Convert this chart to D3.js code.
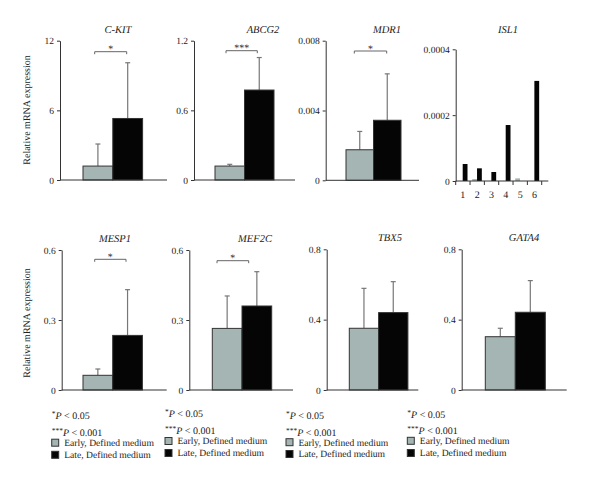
<!DOCTYPE html>
<html><head><meta charset="utf-8">
<script src="https://cdn.jsdelivr.net/npm/d3@7"></script>
<style>body{margin:0;background:#fff}svg{display:block}text{font-family:"Liberation Serif","Times New Roman",serif;fill:#222;text-rendering:geometricPrecision}</style>
</head><body><svg id="c" width="600" height="482"></svg>
<script>
// ---------- data ----------
const genes = ["C-KIT","ABCG2","MDR1","MESP1","MEF2C","TBX5","GATA4"];
const groups = ["Early","Late"];
const earlyMean = [1.2, 0.12, 0.00175, 0.063, 0.264, 0.351, 0.303];
const earlySD   = [1.9, 0.015, 0.00105, 0.027, 0.139, 0.227, 0.048];
const lateMean  = [5.3, 0.775, 0.00344, 0.234, 0.36, 0.44, 0.442];
const lateSD    = [4.8, 0.28, 0.00266, 0.196, 0.147, 0.176, 0.18];
const yMax      = [12, 1.2, 0.008, 0.6, 0.6, 0.8, 0.8];
const yTicks    = [[0,6,12],[0,0.6,1.2],[0,0.004,0.008],[0,0.3,0.6],[0,0.3,0.6],[0,0.4,0.8],[0,0.4,0.8]];
const yTickLabels = [["0","6","12"],["0","0.6","1.2"],["0","0.004","0.008"],["0","0.3","0.6"],["0","0.3","0.6"],["0","0.4","0.8"],["0","0.4","0.8"]];
const sigMarks  = ["*","***","*","*","*","",""];

const islGene = "ISL1";
const islCats = ["1","2","3","4","5","6"];
const islEarly = [0, 0.000006, 0, 0, 0.000008, 0];
const islLate  = [0.0000516, 0.0000385, 0.0000273, 0.00017, 0, 0.000304];
const islTicks = [0, 0.0002, 0.0004];
const islTickLabels = ["0","0.0002","0.0004"];

const yLabel = "Relative mRNA expression";
const legendNames = ["Early, Defined medium","Late, Defined medium"];

// ---------- layout ----------
const layout = [
 {ax:60,    end:167,   b0:83,    bw:29.8, top:40.7,  bot:180,   tx:118, ty:32.5, brY:51.7,  br:[94.7,126.7]},
 {ax:194,   end:295,   b0:215,   bw:29.5, top:40.7,  bot:180,   tx:263, ty:32.5, brY:50.7,  br:[226,257.3]},
 {ax:325.7, end:419,   b0:346,   bw:27.5, top:40.7,  bot:180.3, tx:387, ty:32.5, brY:51,    br:[354.3,386.7]},
 {ax:61.7,  end:166.7, b0:83,    bw:29.7, top:250,   bot:390,   tx:115, ty:241.5, brY:259.3, br:[94.7,126]},
 {ax:189.3, end:293,   b0:212.3, bw:29.7, top:250,   bot:390,   tx:255, ty:241.5, brY:260.7, br:[217,248.7]},
 {ax:326.7, end:418.3, b0:349.3, bw:29.3, top:249.3, bot:390,   tx:390, ty:240.5},
 {ax:461.7, end:566.7, b0:485.3, bw:30,   top:249.3, bot:390,   tx:524, ty:240.5}
];
const islLayout = {ax:455.7, bandEnd:541.7, end:548.3, top:49.3, bot:181, tx:508, ty:32.5};
const legendPos = [
 {x:51.7, y:[415.7,432.7,442.7,454.8]},
 {x:165,  y:[413.3,430.7,441,453]},
 {x:286,  y:[415.7,432.7,442.2,454]},
 {x:407.3,y:[414.3,431,440.8,453]}
];
const colEarly = "#a5b5b3", colLate = "#050505", colAxis = "#333", colErr = "#777";

const svg = d3.select("#c");

function yAxisDraw(g, y, ticks, labels, ax){
  const axis = d3.axisLeft(y).tickValues(ticks).tickSize(3).tickSizeOuter(0)
    .tickFormat((d,i)=>labels[i]);
  const a = g.append("g").attr("transform",`translate(${ax},0)`).call(axis);
  a.select(".domain").attr("stroke",colAxis);
  a.selectAll(".tick line").attr("stroke",colAxis);
  a.selectAll(".tick text").attr("font-size",9.5).attr("fill","#222")
    .attr("font-family",'"Liberation Serif","Times New Roman",serif').attr("x",-6);
}

genes.forEach((gname,i)=>{
  const L = layout[i];
  const g = svg.append("g");
  const y = d3.scaleLinear().domain([0,yMax[i]]).range([L.bot,L.top]);
  const x = d3.scaleBand().domain(groups).range([L.b0, L.b0+2*L.bw]).padding(0);
  yAxisDraw(g, y, yTicks[i], yTickLabels[i], L.ax);
  const rows = [
    {grp:"Early", m:earlyMean[i], sd:earlySD[i], c:colEarly},
    {grp:"Late",  m:lateMean[i],  sd:lateSD[i],  c:colLate}
  ];
  rows.forEach(r=>{
    const cx = x(r.grp)+x.bandwidth()/2;
    g.append("line").attr("x1",cx).attr("x2",cx).attr("y1",y(r.m)).attr("y2",y(r.m+r.sd))
      .attr("stroke",colErr).attr("stroke-width",1.2);
    g.append("line").attr("x1",cx-2.5).attr("x2",cx+2.5).attr("y1",y(r.m+r.sd)).attr("y2",y(r.m+r.sd))
      .attr("stroke",colErr).attr("stroke-width",1.2);
  });
  g.selectAll("rect.bar").data(rows).join("rect")
    .attr("x",d=>x(d.grp)).attr("width",x.bandwidth())
    .attr("y",d=>y(d.m)).attr("height",d=>y(0)-y(d.m))
    .attr("fill",d=>d.c).attr("stroke","#333").attr("stroke-width",1);
  g.append("line").attr("x1",L.ax).attr("x2",L.end).attr("y1",L.bot).attr("y2",L.bot)
    .attr("stroke",colAxis).attr("stroke-width",1);
  g.append("text").attr("x",L.tx).attr("y",L.ty).attr("text-anchor","middle")
    .attr("font-size",10.5).attr("font-style","italic").text(gname);
  if (sigMarks[i]) {
    const [x1,x2] = L.br, by = L.brY;
    g.append("path").attr("d",`M${x1},${by+2.5}V${by}H${x2}V${by+2.5}`)
      .attr("fill","none").attr("stroke","#666").attr("stroke-width",1);
    g.append("text").attr("x",(x1+x2)/2).attr("y",by+0.5).attr("text-anchor","middle")
      .attr("font-size",10).attr("fill","#444").text(sigMarks[i]);
  }
});

// ISL1 panel
(function(){
  const L = islLayout;
  const g = svg.append("g");
  const y = d3.scaleLinear().domain([0,0.0004]).range([L.bot,L.top]);
  const x = d3.scaleBand().domain(islCats).range([L.ax, L.bandEnd]).padding(0);
  const x1 = d3.scaleBand().domain(groups).range([2.2, 11.8]).padding(0);
  yAxisDraw(g, y, islTicks, islTickLabels, L.ax);
  const data = [];
  islCats.forEach((c,i)=>{
    data.push({c, grp:"Early", v:islEarly[i], col:colEarly});
    data.push({c, grp:"Late", v:islLate[i], col:colLate});
  });
  g.selectAll("rect").data(data.filter(d=>d.v>0)).join("rect")
    .attr("x",d=>x(d.c)+x1(d.grp)).attr("width",x1.bandwidth())
    .attr("y",d=>y(d.v)).attr("height",d=>y(0)-y(d.v))
    .attr("fill",d=>d.col);
  g.append("line").attr("x1",L.ax).attr("x2",L.end).attr("y1",L.bot).attr("y2",L.bot)
    .attr("stroke",colAxis);
  const bounds = islCats.map(c=>x(c)).concat([L.bandEnd]);
  g.selectAll("line.bt").data(bounds).join("line").attr("class","bt")
    .attr("x1",d=>d).attr("x2",d=>d).attr("y1",L.bot).attr("y2",L.bot+4).attr("stroke",colAxis);
  g.selectAll("text.cl").data(islCats).join("text").attr("class","cl")
    .attr("x",d=>x(d)+x.bandwidth()/2).attr("y",L.bot+17).attr("text-anchor","middle")
    .attr("font-size",10).attr("fill","#222").text(d=>d);
  g.append("text").attr("x",L.tx).attr("y",L.ty).attr("text-anchor","middle")
    .attr("font-size",10.5).attr("font-style","italic").text(islGene);
})();

[110, 323].forEach(cy=>{
  svg.append("text").attr("transform",`translate(29.5,${cy}) rotate(-90)`)
    .attr("text-anchor","middle").attr("font-size",10).text(yLabel);
});

legendPos.forEach(P=>{
  const g = svg.append("g");
  const t1 = g.append("text").attr("x",P.x).attr("y",P.y[0]+3.5).attr("font-size",10);
  t1.append("tspan").attr("font-size",7.5).attr("dy",-3).text("*");
  t1.append("tspan").attr("dy",3).attr("font-style","italic").text("P");
  t1.append("tspan").text(" < 0.05");
  const t2 = g.append("text").attr("x",P.x).attr("y",P.y[1]+3.2).attr("font-size",10);
  t2.append("tspan").attr("font-size",7.5).attr("dy",-3).text("***");
  t2.append("tspan").attr("dy",3).attr("font-style","italic").text("P");
  t2.append("tspan").text(" < 0.001");
  [colEarly,colLate].forEach((c,k)=>{
    g.append("rect").attr("x",P.x).attr("y",P.y[2+k]-3.5).attr("width",7).attr("height",7)
      .attr("fill",c).attr("stroke","#333").attr("stroke-width",1);
    g.append("text").attr("x",P.x+12.5).attr("y",P.y[2+k]+3.3).attr("font-size",9.6).text(legendNames[k]);
  });
});
</script></body></html>
